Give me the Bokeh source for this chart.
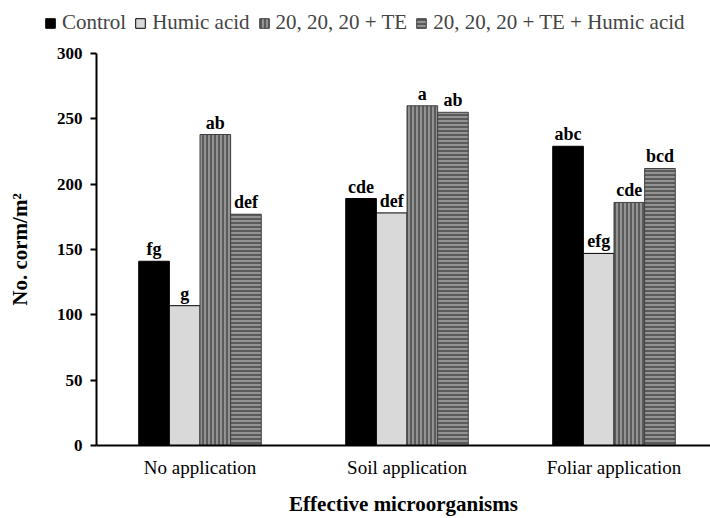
from bokeh.plotting import figure
from bokeh.models import ColumnDataSource, Range1d, Legend, LegendItem, FixedTicker
from bokeh.core.properties import value
from bokeh.embed import file_html
from bokeh.resources import INLINE

categories = ["No application", "Soil application", "Foliar application"]
series = ["Control", "Humic acid", "20, 20, 20 + TE", "20, 20, 20 + TE + Humic acid"]
control = [141, 189, 229]
humic = [107, 178, 147]
npk_te = [238, 260, 186]
npk_te_humic = [177, 255, 212]
letters_control = ["fg", "cde", "abc"]
letters_humic = ["g", "def", "efg"]
letters_npk = ["ab", "a", "cde"]
letters_npk_humic = ["def", "ab", "bcd"]

FONT = "Times"

p = figure(width=710, height=478, output_backend="svg", toolbar_location=None,
           x_range=Range1d(-0.5, -0.5 + 614 / 207), y_range=Range1d(0, 300),
           min_border_left=96, min_border_right=0, min_border_top=13, min_border_bottom=73)
p.outline_line_color = None
p.grid.visible = False

bw = 0.148
offsets = [-1.5 * bw, -0.5 * bw, 0.5 * bw, 1.5 * bw]
vals = [control, humic, npk_te, npk_te_humic]
letters = [letters_control, letters_humic, letters_npk, letters_npk_humic]
styles = [
    dict(fill_color="black", line_color="black"),
    dict(fill_color="#d9d9d9", line_color="black"),
    dict(fill_color="#939393", line_color="#404040", hatch_pattern="vertical_line",
         hatch_color="#222222", hatch_scale=4, hatch_weight=1),
    dict(fill_color="#939393", line_color="#404040", hatch_pattern="horizontal_line",
         hatch_color="#222222", hatch_scale=4, hatch_weight=1),
]

# legend strip: a separate small figure placed above the chart; its ranges lie
# away from the data so that only the legend shows
lg = figure(width=710, height=40, output_backend="svg", toolbar_location=None,
            x_axis_type=None, y_axis_type=None, min_border=0,
            min_border_left=0, min_border_right=0, min_border_top=0, min_border_bottom=0,
            x_range=Range1d(100, 101), y_range=Range1d(1000, 1001))
lg.outline_line_color = None
lg.grid.visible = False

items = []
for i, (name, v, lt, st) in enumerate(zip(series, vals, letters, styles)):
    xs = [k + offsets[i] for k in range(len(categories))]
    src = ColumnDataSource(dict(x=xs, top=v, lab=lt))
    p.vbar(x="x", top="top", bottom=0, width=bw, source=src, line_width=1, **st)
    p.text(x="x", y="top", text="lab", source=src, text_align="center", text_baseline="bottom",
           y_offset=-2, text_font=value(FONT), text_font_style="bold", text_font_size="18px",
           text_color="black")
    proxy = lg.vbar(x="x", top="top", bottom=0, width=bw, source=src, line_width=1, **st)
    items.append(LegendItem(label=name, renderers=[proxy]))

legend = Legend(items=items, orientation="horizontal", location=(44, 5),
                label_text_font=FONT, label_text_font_size="21px", label_standoff=6,
                glyph_width=12, glyph_height=12, spacing=8, padding=0, margin=0,
                border_line_color=None, background_fill_alpha=0)
lg.add_layout(legend, "center")

p.xaxis.ticker = FixedTicker(ticks=[0, 1, 2])
p.xaxis.major_label_overrides = {0: categories[0], 1: categories[1], 2: categories[2]}
p.xaxis.major_tick_out = 0
p.xaxis.major_tick_in = 0
p.xaxis.minor_tick_out = 0
p.xaxis.minor_tick_in = 0
p.xaxis.major_label_standoff = 11
p.xaxis.major_label_text_font = FONT
p.xaxis.major_label_text_font_size = "19px"
p.xaxis.axis_label = "Effective microorganisms"
p.xaxis.axis_label_text_font = FONT
p.xaxis.axis_label_text_font_style = "bold"
p.xaxis.axis_label_text_font_size = "21px"
p.xaxis.axis_label_standoff = 11

p.yaxis.ticker = FixedTicker(ticks=[0, 50, 100, 150, 200, 250, 300])
p.yaxis.minor_tick_out = 0
p.yaxis.minor_tick_in = 0
p.yaxis.major_tick_in = 0
p.yaxis.major_tick_out = 6
p.yaxis.major_label_standoff = 8
p.yaxis.major_label_text_font = FONT
p.yaxis.major_label_text_font_style = "bold"
p.yaxis.major_label_text_font_size = "17px"
p.yaxis.axis_label = "No. corm/m²"
p.yaxis.axis_label_text_font = FONT
p.yaxis.axis_label_text_font_style = "bold"
p.yaxis.axis_label_text_font_size = "21px"
p.yaxis.axis_label_standoff = 22

for ax in (p.xaxis, p.yaxis):
    ax.axis_line_color = "black"
    ax.axis_line_width = 2
    ax.major_tick_line_color = "black"
    ax.major_tick_line_width = 2
    ax.major_label_text_color = "black"
    ax.axis_label_text_color = "black"

open("out.html", "w").write(file_html([lg, p], INLINE))
